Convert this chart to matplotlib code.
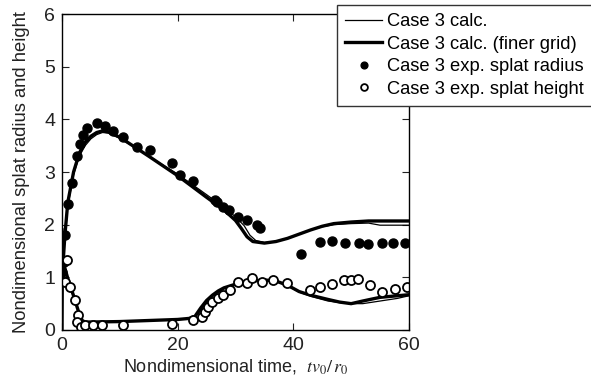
import matplotlib
matplotlib.use('Agg')
import matplotlib.pyplot as plt
import numpy as np

plt.rcParams['font.family'] = ['Liberation Sans', 'DejaVu Sans']
plt.rcParams['mathtext.fontset'] = 'stix'

# calculated radius (coarse grid)
t_calc_r = [0, 0.05, 0.5, 1, 2, 3, 4, 5, 6, 7, 8, 10, 15, 20, 25, 28, 30, 31.5,
            32.5, 33.5, 35, 37, 39, 41, 43, 45, 47, 50, 53, 55, 60]
r_calc = [0, 1.0, 1.75, 2.35, 2.95, 3.3, 3.5, 3.63, 3.71, 3.75, 3.74, 3.64, 3.3,
          2.96, 2.57, 2.33, 2.15, 1.98, 1.8, 1.7, 1.66, 1.68, 1.74, 1.82, 1.9,
          1.96, 2.0, 2.02, 2.03, 1.99, 1.99]
# calculated radius (finer grid)
t_fine_r = [0, 0.05, 0.5, 1, 2, 3, 4, 5, 6, 7, 8, 10, 15, 20, 25, 28, 30, 31,
            32, 33, 35, 37, 39, 41, 43, 45, 47, 50, 53, 55, 60]
r_fine = [0, 1.05, 1.8, 2.42, 3.0, 3.36, 3.56, 3.68, 3.75, 3.78, 3.76, 3.66,
          3.3, 2.93, 2.52, 2.28, 2.08, 1.93, 1.77, 1.68, 1.65, 1.68, 1.74, 1.82,
          1.9, 1.97, 2.02, 2.05, 2.07, 2.07, 2.07]

# calculated height (coarse grid)
t_calc_h = [0, 0.3, 1, 2, 3, 3.6, 4, 10, 20, 22.5, 23.5, 24.5, 25.5, 26.5, 28,
            30, 33, 35, 37, 39, 41, 43, 46, 48, 50, 52, 55, 58, 60]
h_calc = [1.9, 1.2, 0.95, 0.62, 0.3, 0.17, 0.15, 0.16, 0.2, 0.22, 0.3, 0.45,
          0.58, 0.68, 0.78, 0.86, 0.93, 0.95, 0.92, 0.84, 0.72, 0.64, 0.55, 0.52,
          0.5, 0.5, 0.55, 0.6, 0.65]
# calculated height (finer grid)
t_fine_h = [0, 0.3, 1, 2, 3, 3.5, 4, 10, 20, 22, 23, 24, 25, 26, 27, 28, 30,
            33, 35, 37, 39, 41, 43, 46, 48, 50, 52, 55, 58, 60]
h_fine = [1.9, 1.25, 0.98, 0.65, 0.3, 0.18, 0.15, 0.16, 0.2, 0.22, 0.26, 0.42,
          0.56, 0.66, 0.74, 0.8, 0.87, 0.93, 0.95, 0.93, 0.85, 0.73, 0.66, 0.58,
          0.53, 0.5, 0.55, 0.62, 0.65, 0.67]

# experimental splat radius
t_exp_r = [0, 0.3, 0.5, 1.0, 1.7, 2.6, 3.1, 3.6, 4.3, 6.0, 7.4, 8.9, 10.5, 12.9,
           15.2, 19.0, 20.4, 22.6, 26.5, 26.8, 27.9, 28.8, 30.5, 32.0, 33.7,
           34.3, 41.3, 44.6, 46.7, 49.0, 51.4, 53.0, 55.4, 57.3, 59.3]
r_exp = [1.1, 1.3, 1.8, 2.4, 2.8, 3.3, 3.53, 3.7, 3.83, 3.93, 3.87, 3.78, 3.67,
         3.48, 3.42, 3.17, 2.94, 2.82, 2.47, 2.43, 2.34, 2.28, 2.15, 2.08, 1.99,
         1.93, 1.44, 1.67, 1.69, 1.66, 1.66, 1.63, 1.66, 1.66, 1.66]

# experimental splat height
t_exp_h = [0.5, 0.8, 1.4, 2.2, 2.8, 2.6, 3.3, 4.0, 5.4, 6.9, 10.5, 19.0, 22.7,
           24.2, 24.7, 25.3, 25.9, 27.0, 27.9, 29.1, 30.5, 32.0, 32.8, 34.5,
           36.5, 38.9, 42.9, 44.6, 46.7, 48.8, 50.0, 51.2, 53.3, 55.4, 57.6,
           59.7]
h_exp = [0.91, 1.33, 0.82, 0.57, 0.28, 0.15, 0.06, 0.1, 0.1, 0.1, 0.1, 0.11,
         0.19, 0.25, 0.34, 0.44, 0.53, 0.6, 0.66, 0.76, 0.91, 0.89, 0.98, 0.91,
         0.95, 0.9, 0.76, 0.82, 0.87, 0.95, 0.95, 0.97, 0.85, 0.72, 0.78, 0.82]

fig = plt.figure(figsize=(5.91, 3.83), dpi=100)
ax = fig.add_axes([0.1049, 0.1384, 0.5871, 0.825])

ax.plot(t_calc_r, r_calc, color='black', lw=0.9, label='Case 3 calc.')
ax.plot(t_fine_r, r_fine, color='black', lw=2.4, label='Case 3 calc. (finer grid)')
ax.plot(t_calc_h, h_calc, color='black', lw=0.9)
ax.plot(t_fine_h, h_fine, color='black', lw=2.4)
ax.plot(t_exp_r, r_exp, 'o', color='black', ms=6.5, label='Case 3 exp. splat radius')
ax.plot(t_exp_h, h_exp, 'o', mfc='white', mec='black', mew=1.3, ms=6.5,
        label='Case 3 exp. splat height')

ax.set_xlim(0, 60)
ax.set_ylim(0, 6)
ax.set_xticks([0, 20, 40, 60])
ax.set_yticks([0, 1, 2, 3, 4, 5, 6])
ax.tick_params(direction='in', length=5, top=True, right=True,
               labelsize=14, colors='#222222', pad=5)
for s in ax.spines.values():
    s.set_linewidth(1.0)

ax.set_xlabel(r'Nondimensional time,  $tv_0/\,r_0$', fontsize=13,
              color='#222222', labelpad=2)
ax.set_ylabel('Nondimensional splat radius and height', fontsize=13.2,
              color='#222222', labelpad=10)

leg = fig.legend(loc='upper left', bbox_to_anchor=(337 / 591, 1 - 5 / 383),
                 fontsize=13.2, frameon=True, fancybox=False, framealpha=1,
                 edgecolor='#333333', handlelength=2.0, handletextpad=0.3,
                 borderpad=0.45, borderaxespad=0, labelspacing=0.3,
                 markerscale=0.75)
leg.get_frame().set_linewidth(1.0)

fig.savefig('out.png', dpi=100, facecolor='white')
